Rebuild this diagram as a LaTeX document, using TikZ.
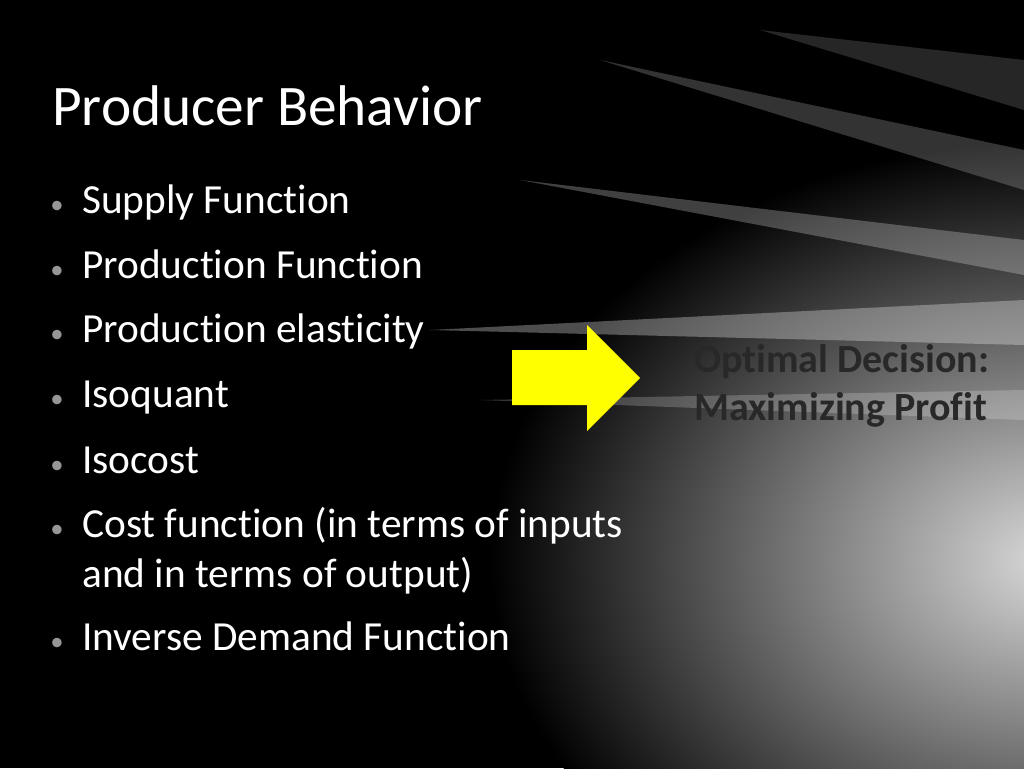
\documentclass[tikz,border=0pt]{standalone}
\usepackage{fontspec}
\setmainfont{Carlito}[RawFeature={-liga;-clig;-dlig}]
\definecolor{bul}{RGB}{150,150,150}
\definecolor{rtxt}{RGB}{40,40,40}
\definecolor{ayel}{RGB}{255,255,0}
\tikzset{
  item/.style={anchor=base west,text=white,font=\fontsize{31}{37}\selectfont,align=left,inner sep=0pt},
  dot/.style={anchor=base west,text=bul,font=\fontsize{20}{24}\selectfont,inner sep=0pt}
}
\begin{document}
\begin{tikzpicture}[x=0.75pt,y=-0.75pt]
\useasboundingbox (0,0) rectangle (1024,768);
\fill[black] (0,0) rectangle (1024,768);
\begin{scope}
\clip (0,0) rectangle (1024,768);
\shade[inner color=white!85!black,outer color=black] (1050,560) ellipse (560 and 420);
\fill[white,opacity=0.3] (1024,300) -- (430,330) -- (1024,345) -- cycle;
\fill[white,opacity=0.25] (1024,240) -- (520,180) -- (1024,275) -- cycle;
\fill[white,opacity=0.2] (1024,150) -- (600,60) -- (1024,190) -- cycle;
\fill[white,opacity=0.15] (1024,60) -- (760,30) -- (1024,110) -- cycle;
\fill[white,opacity=0.2] (1024,390) -- (480,400) -- (1024,420) -- cycle;
\end{scope}
\node[anchor=base west,inner sep=0pt,text=white,font=\fontsize{43}{50}\selectfont] (title) at (52,125) {Producer Behavior};
\foreach \y/\t [count=\i] in {213/Supply Function,278/Production Function,342/Production elasticity,407/Isoquant,473/Isocost,537/Cost function (in terms of inputs,650/Inverse Demand Function}{
  \node[dot] (d\i) at (50,\y) {•};
  \node[item] (t\i) at (82,\y) {\t};
}
\node[item] (t8) at (82,587) {and in terms of output)};
\fill[ayel] (512,350) -- (587,350) -- (587,325) -- (640,378) -- (587,431) -- (587,405) -- (512,405) -- cycle;
\node[anchor=base west,inner sep=0pt,text=rtxt,font=\bfseries\fontsize{30}{37}\selectfont] (opt) at (694,372) {Optimal Decision:};
\node[anchor=base west,inner sep=0pt,text=rtxt,font=\bfseries\fontsize{30}{37}\selectfont] (opt2) at (694,420) {Maximizing Profit};
\end{tikzpicture}
\end{document}
